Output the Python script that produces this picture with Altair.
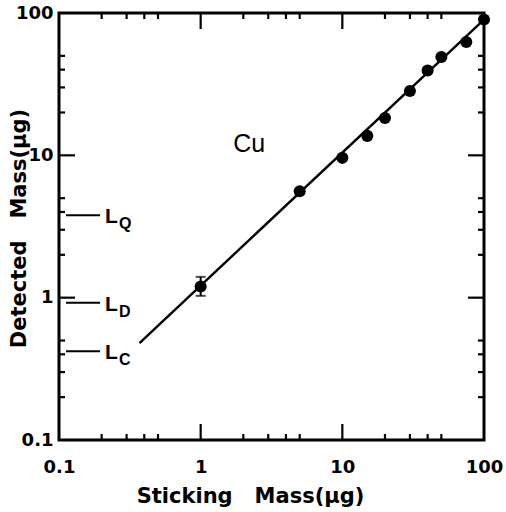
import altair as alt
import pandas as pd

# ---- data ----
stick_mass = [1, 5, 10, 15, 20, 30, 40, 50, 75, 100]
detected_mass = [1.2, 5.6, 9.6, 13.7, 18.3, 28.3, 39.5, 49, 62.5, 90]
err_x = [1]
err_lo = [1.03]
err_hi = [1.40]
fit_x = [0.37, 100]
fit_y = [0.48, 90]
lim_names = ["Q", "D", "C"]
lim_vals = [3.8, 0.92, 0.42]
lim_x0 = [0.112, 0.112, 0.112]
lim_x1 = [0.195, 0.195, 0.195]
major_ticks = [1, 10]
minor_ticks = [0.2, 0.3, 0.4, 0.5, 2, 3, 4, 5, 20, 30, 40, 50]
tick_labels = [0.1, 1, 10, 100]
note_x = [2.2]
note_y = [12]
note_txt = ["Cu"]

W, H = 425, 427
FONT = "Liberation Sans"
BFONT = "DejaVu Sans"
SP = "\u00a0\u00a0\u00a0"

xs = alt.Scale(type="log", domain=[0.1, 100], nice=False)
ys = alt.Scale(type="log", domain=[0.1, 100], nice=False)

pts = pd.DataFrame({"x": stick_mass, "y": detected_mass})
err = pd.DataFrame({"x": err_x, "lo": err_lo, "hi": err_hi})
fit = pd.DataFrame({"x": fit_x, "y": fit_y})
lims = pd.DataFrame({"n": lim_names, "v": lim_vals, "x0": lim_x0, "x1": lim_x1})
note = pd.DataFrame({"x": note_x, "y": note_y, "t": note_txt})

base_x = alt.X("x:Q", scale=xs,
               axis=alt.Axis(values=tick_labels, title="Sticking" + SP + "Mass(\u03bcg)",
                             format="~g", labelPadding=18, labelFlush=False,
                             titleX=191, titleY=62, titleBaseline="alphabetic"))
base_y = alt.Y("y:Q", scale=ys,
               axis=alt.Axis(values=tick_labels, title="Detected" + SP + "Mass(\u03bcg)",
                             format="~g", labelPadding=6, labelFlush=False,
                             titleX=-34, titleY=215, titleBaseline="alphabetic"))

points = alt.Chart(pts).mark_circle(size=145, color="black", opacity=1).encode(x=base_x, y=base_y)
line = alt.Chart(fit).mark_line(color="black", strokeWidth=2.4).encode(
    x=alt.X("x:Q", scale=xs), y=alt.Y("y:Q", scale=ys))
ebar = alt.Chart(err).mark_rule(color="black", strokeWidth=2).encode(
    x=alt.X("x:Q", scale=xs), y=alt.Y("lo:Q", scale=ys), y2="hi:Q")
ecap_lo = alt.Chart(err).mark_tick(color="black", thickness=2, size=10, orient="horizontal").encode(
    x=alt.X("x:Q", scale=xs), y=alt.Y("lo:Q", scale=ys))
ecap_hi = alt.Chart(err).mark_tick(color="black", thickness=2, size=10, orient="horizontal").encode(
    x=alt.X("x:Q", scale=xs), y=alt.Y("hi:Q", scale=ys))

lim_lines = alt.Chart(lims).mark_rule(color="black", strokeWidth=2).encode(
    x=alt.X("x0:Q", scale=xs), x2="x1:Q", y=alt.Y("v:Q", scale=ys))
lim_L = alt.Chart(lims).mark_text(text="L", font=FONT, fontWeight="bold", fontSize=21,
                                  align="left", baseline="alphabetic", dx=5, dy=8,
                                  color="black").encode(
    x=alt.X("x1:Q", scale=xs), y=alt.Y("v:Q", scale=ys))
lim_sub = alt.Chart(lims).mark_text(font=FONT, fontWeight="bold", fontSize=16, align="left",
                                    baseline="alphabetic", dx=19, dy=14, color="black").encode(
    x=alt.X("x1:Q", scale=xs), y=alt.Y("v:Q", scale=ys), text="n:N")

cu = alt.Chart(note).mark_text(font=FONT, fontSize=25, color="black").encode(
    x=alt.X("x:Q", scale=xs), y=alt.Y("y:Q", scale=ys), text="t:N")


def tick_layers(vals, length):
    df = pd.DataFrame({"v": vals})
    c = alt.Chart(df).mark_rule(color="black", strokeWidth=2.2)
    return [
        c.encode(x=alt.X("v:Q", scale=xs), y=alt.value(H), y2=alt.value(H - length)),
        c.encode(x=alt.X("v:Q", scale=xs), y=alt.value(0), y2=alt.value(length)),
        c.encode(y=alt.Y("v:Q", scale=ys), x=alt.value(0), x2=alt.value(length)),
        c.encode(y=alt.Y("v:Q", scale=ys), x=alt.value(W), x2=alt.value(W - length)),
    ]


layers = [points, line, ebar, ecap_lo, ecap_hi, lim_lines, lim_L, lim_sub, cu]
layers += tick_layers(major_ticks, 16)
layers += tick_layers(minor_ticks, 6)

chart = alt.layer(*layers).properties(
    width=W, height=H,
    autosize=alt.AutoSizeParams(type="none"),
    padding={"left": 59, "top": 13, "right": 22, "bottom": 72},
    background="white",
).configure_view(
    stroke="black", strokeWidth=3
).configure_axis(
    grid=False, domain=False, ticks=False, tickSize=0,
    labelFont=BFONT, labelFontWeight="bold", labelFontSize=18, labelColor="black",
    titleFont=BFONT, titleFontWeight="bold", titleFontSize=21, titleColor="black",
)

chart.save("out.html", embed_options={"renderer": "svg", "actions": False})
